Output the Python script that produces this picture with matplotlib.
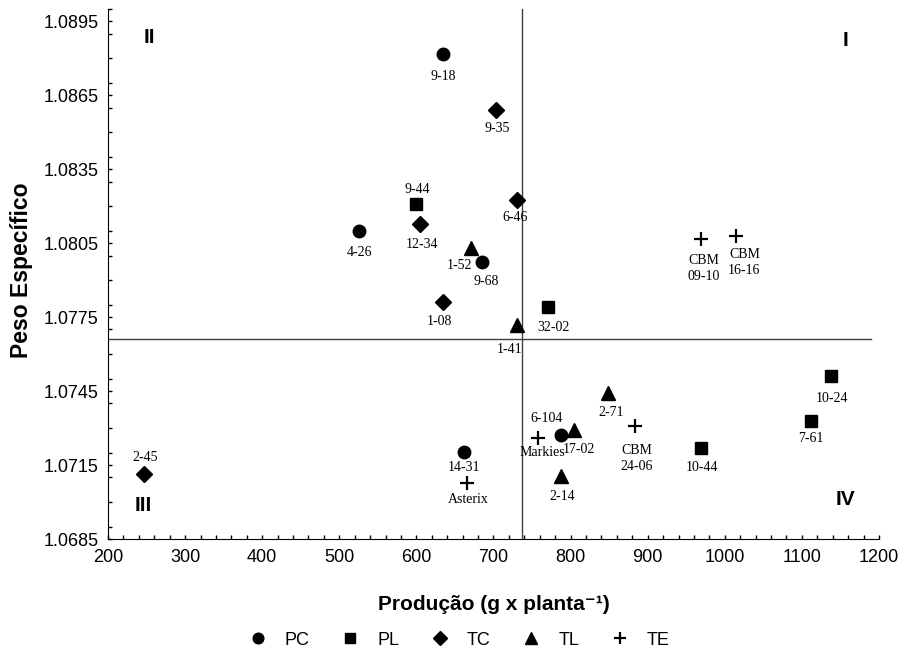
import matplotlib
matplotlib.use('Agg')
import matplotlib.pyplot as plt
from matplotlib.ticker import MultipleLocator, FormatStrFormatter

# dados (Producao em g/planta, Peso Especifico)
pc_x = [634, 525, 685, 662, 787]
pc_y = [1.08816, 1.08099, 1.07973, 1.07203, 1.07272]
pc_nomes = ['9-18', '4-26', '9-68', '14-31', '6-104']

pl_x = [599, 771, 969, 1112, 1138]
pl_y = [1.08208, 1.07790, 1.07219, 1.07328, 1.07511]
pl_nomes = ['9-44', '32-02', '10-44', '7-61', '10-24']

tc_x = [703, 605, 730, 635, 247]
tc_y = [1.08589, 1.08127, 1.08224, 1.07811, 1.07114]
tc_nomes = ['9-35', '12-34', '6-46', '1-08', '2-45']

tl_x = [671, 730, 849, 805, 787]
tl_y = [1.08030, 1.07718, 1.07442, 1.07292, 1.07105]
tl_nomes = ['1-52', '1-41', '2-71', '17-02', '2-14']

te_x = [969, 1015, 883, 758, 665]
te_y = [1.08066, 1.08078, 1.07308, 1.07260, 1.07077]
te_nomes = ['CBM\n09-10', 'CBM\n16-16', 'CBM\n24-06', 'Markies', 'Asterix']

# medias que dividem os quadrantes
media_x = 737
media_y = 1.0766

# deslocamento dos rotulos (px; dy positivo = para baixo)
desloc = {
    '9-18': (1, 22), '4-26': (1, 21), '9-68': (4, 19), '14-31': (0, 15),
    '6-104': (-14, -16), '9-44': (2, -15), '32-02': (5, 20), '10-44': (1, 19),
    '7-61': (0, 17), '10-24': (1, 22), '9-35': (1, 18), '12-34': (2, 20),
    '6-46': (-2, 17), '1-08': (-4, 19), '2-45': (1, -16), '1-52': (-12, 17),
    '1-41': (-7, 24), '2-71': (3, 19), '17-02': (4, 19), '2-14': (2, 20),
    'CBM\n09-10': (3, 29), 'CBM\n16-16': (8, 26), 'CBM\n24-06': (2, 32),
    'Markies': (4, 15), 'Asterix': (2, 16),
}

grupos = [
    ('PC', pc_x, pc_y, pc_nomes, 'o', 9),
    ('PL', pl_x, pl_y, pl_nomes, 's', 9),
    ('TC', tc_x, tc_y, tc_nomes, 'D', 8.5),
    ('TL', tl_x, tl_y, tl_nomes, '^', 9.5),
    ('TE', te_x, te_y, te_nomes, '+', 10),
]

plt.rcParams['font.family'] = ['Liberation Sans', 'DejaVu Sans']

fig = plt.figure(figsize=(9.04, 6.54), dpi=100)
ax = fig.add_axes([0.1195, 0.1758, 0.8528, 0.8104])

# linhas dos quadrantes
ax.axvline(media_x, color='#404040', lw=1, zorder=1)
ax.axhline(media_y, xmin=0, xmax=0.9896, color='#404040', lw=1, zorder=1)

handles = []
for nome, xs, ys, rotulos, mk, ms in grupos:
    h, = ax.plot(xs, ys, linestyle='none', marker=mk, ms=ms, color='black',
                 mew=1.6 if mk == '+' else 1, label=nome, zorder=3)
    handles.append(h)
    for x, y, r in zip(xs, ys, rotulos):
        dx, dy = desloc[r]
        ax.annotate(r, (x, y), xytext=(dx * 0.72, -dy * 0.72),
                    textcoords='offset points', ha='center', va='center',
                    fontfamily='Liberation Serif', fontsize=10,
                    linespacing=1.3, zorder=4)

# numeros dos quadrantes
ax.text(254, 1.08885, 'II', fontsize=15, fontweight='bold', ha='center', va='center')
ax.text(1157, 1.08873, 'I', fontsize=15, fontweight='bold', ha='center', va='center')
ax.text(246, 1.06985, 'III', fontsize=15, fontweight='bold', ha='center', va='center')
ax.text(1156, 1.07010, 'IV', fontsize=15, fontweight='bold', ha='center', va='center')

ax.set_xlim(200, 1200)
ax.set_ylim(1.0685, 1.0900)
ax.xaxis.set_major_locator(MultipleLocator(100))
ax.xaxis.set_minor_locator(MultipleLocator(20))
ax.set_yticks([1.0685, 1.0715, 1.0745, 1.0775, 1.0805, 1.0835, 1.0865, 1.0895])
ax.yaxis.set_minor_locator(MultipleLocator(0.001))
ax.yaxis.set_major_formatter(FormatStrFormatter('%.4f'))
ax.tick_params(which='both', direction='in', length=3, width=1, labelsize=13)
ax.tick_params(axis='y', pad=7)
ax.tick_params(axis='x', pad=7)
for s in ['top', 'right']:
    ax.spines[s].set_visible(False)

ax.set_xlabel('Produção (g x planta⁻¹)', fontsize=15, fontweight='bold')
ax.xaxis.set_label_coords(0.5, -0.105)
ax.set_ylabel('Peso Específico', fontsize=16.5, fontweight='bold')
ax.yaxis.set_label_coords(-0.097, 0.5075)

fig.legend(handles=handles, loc='center', bbox_to_anchor=(0.508, 0.0214),
           ncol=5, frameon=False, fontsize=13, handlelength=1.0,
           handletextpad=1.0, columnspacing=1.75, markerscale=0.85)

plt.savefig('out.png', dpi=100)
